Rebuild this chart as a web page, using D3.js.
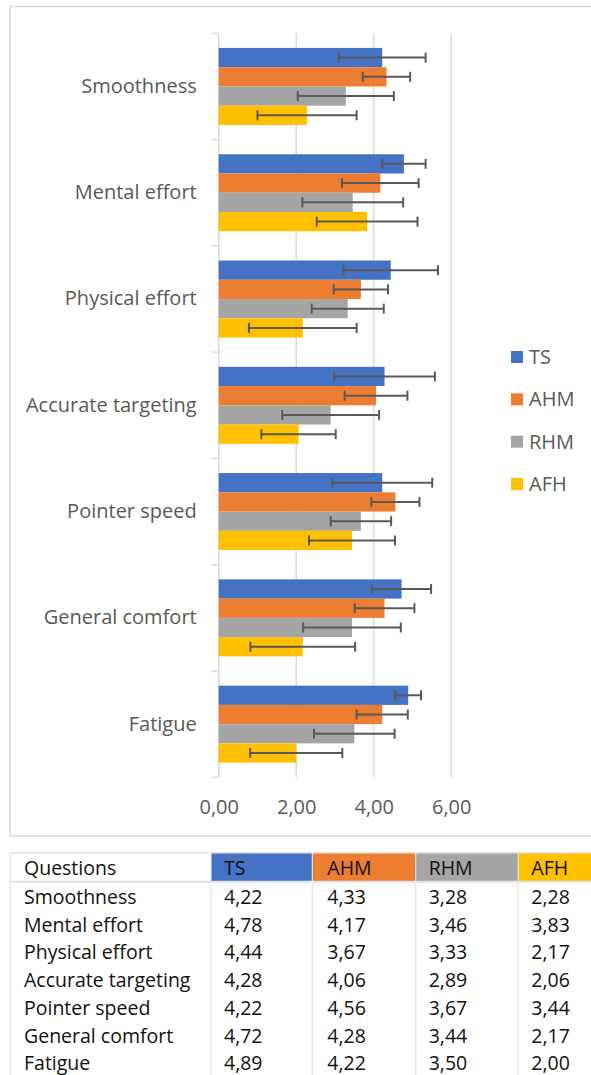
<!DOCTYPE html>
<html><head><meta charset="utf-8">
<script src="https://cdn.jsdelivr.net/npm/d3@7"></script>
<style>
html,body{margin:0;padding:0;background:#fff;}
svg{display:block;}
</style>
</head><body>
<svg id="c" width="591" height="1075"></svg>
<script>
const categories = ["Smoothness","Mental effort","Physical effort","Accurate targeting","Pointer speed","General comfort","Fatigue"];
const seriesNames = ["TS","AHM","RHM","AFH"];
const seriesColors = ["#4472C4","#ED7D31","#A5A5A5","#FFC000"];
const tsValues  = [4.22,4.78,4.44,4.28,4.22,4.72,4.89];
const ahmValues = [4.33,4.17,3.67,4.06,4.56,4.28,4.22];
const rhmValues = [3.28,3.46,3.33,2.89,3.67,3.44,3.50];
const afhValues = [2.28,3.83,2.17,2.06,3.44,2.17,2.00];
const tsErr  = [1.12,0.56,1.22,1.30,1.29,0.76,0.33];
const ahmErr = [0.61,0.99,0.70,0.81,0.62,0.77,0.66];
const rhmErr = [1.24,1.30,0.93,1.25,0.78,1.26,1.04];
const afhErr = [1.28,1.30,1.39,0.96,1.11,1.35,1.19];
const xTicks = [0,2,4,6];
const tableHeader = "Questions";

const values = [tsValues, ahmValues, rhmValues, afhValues];
const errs = [tsErr, ahmErr, rhmErr, afhErr];
const fmt = v => v.toFixed(2).replace(".", ",");
const FONT = "'Open Sans', sans-serif";
const GREY = "#595959";
const LINE = "#d9d9d9";

const svg = d3.select("#c");

// chart frame
svg.append("rect").attr("x",10).attr("y",6.5).attr("width",600).attr("height",829.5)
  .attr("fill","#fff").attr("stroke",LINE).attr("stroke-width",1.5);

const x = d3.scaleLinear().domain([0,6]).range([218.7,451.2]);
const y = d3.scaleBand().domain(categories).range([33.3,777.3]).padding(0);
const yi = d3.scaleBand().domain(seriesNames).range([0,y.bandwidth()]).paddingInner(0).paddingOuter(0.76);

// gridlines
svg.append("g").selectAll("line").data(xTicks.filter(t=>t>0)).join("line")
  .attr("x1",d=>x(d)).attr("x2",d=>x(d)).attr("y1",33.3).attr("y2",777.3)
  .attr("stroke",LINE).attr("stroke-width",1.5);

// x axis labels
const xAxis = d3.axisBottom(x).tickValues(xTicks).tickFormat(fmt).tickSize(0).tickPadding(0);
const gx = svg.append("g").attr("transform","translate(0,814)").call(xAxis);
gx.select(".domain").remove();
gx.selectAll("text").attr("dy",0).attr("font-family",FONT).attr("font-size",20).attr("fill",GREY);

// y axis
const yAxis = d3.axisLeft(y).tickSize(0).tickPadding(22);
const gy = svg.append("g").attr("transform",`translate(${x(0)},0)`).call(yAxis);
gy.select(".domain").remove();
gy.selectAll("text").attr("font-family",FONT).attr("font-size",20).attr("fill",GREY).attr("dy","0.32em");
// axis line and band ticks
svg.append("line").attr("x1",x(0)).attr("x2",x(0)).attr("y1",33.3).attr("y2",777.3)
  .attr("stroke",LINE).attr("stroke-width",1.5);
const bounds = categories.map(c=>y(c)).concat([y(categories[categories.length-1])+y.bandwidth()]);
svg.append("g").selectAll("line").data(bounds).join("line")
  .attr("x1",x(0)-7).attr("x2",x(0)).attr("y1",d=>d).attr("y2",d=>d)
  .attr("stroke",LINE).attr("stroke-width",1.5);

// bars
const barData = [];
categories.forEach((c,i)=>seriesNames.forEach((s,j)=>barData.push({c,s,j,v:values[j][i],e:errs[j][i]})));
const gb = svg.append("g");
gb.selectAll("rect").data(barData).join("rect")
  .attr("x",x(0)).attr("y",d=>y(d.c)+yi(d.s)).attr("width",d=>x(d.v)-x(0)).attr("height",yi.bandwidth())
  .attr("fill",d=>seriesColors[d.j]);

// error bars
const ge = svg.append("g").attr("stroke",GREY).attr("stroke-width",2).attr("fill","none");
barData.forEach(d=>{
  const cy = y(d.c)+yi(d.s)+yi.bandwidth()/2;
  const x1 = x(d.v-d.e), x2 = x(d.v+d.e);
  ge.append("line").attr("x1",x1).attr("x2",x2).attr("y1",cy).attr("y2",cy);
  ge.append("line").attr("x1",x1).attr("x2",x1).attr("y1",cy-5).attr("y2",cy+5);
  ge.append("line").attr("x1",x2).attr("x2",x2).attr("y1",cy-5).attr("y2",cy+5);
});

// legend
const leg = svg.append("g");
const legY = d3.scalePoint().domain(seriesNames).range([357,484]);
seriesNames.forEach((s,j)=>{
  leg.append("rect").attr("x",511).attr("y",legY(s)-6).attr("width",12).attr("height",12).attr("fill",seriesColors[j]);
  leg.append("text").attr("x",529).attr("y",legY(s)).attr("dy","0.35em")
    .attr("font-family",FONT).attr("font-size",20).attr("fill",GREY).text(s);
});

// table
const colX = [10,211,312.3,415.7,518.3,600];
const tTop = 852.7, hH = 29, rH = 27.7;
const tg = svg.append("g");
// header background
seriesNames.forEach((s,j)=>{
  tg.append("rect").attr("x",colX[j+1]).attr("y",tTop).attr("width",colX[j+2]-colX[j+1]).attr("height",hH)
    .attr("fill",seriesColors[j]);
});
// grid lines
tg.append("line").attr("x1",colX[0]).attr("x2",600).attr("y1",tTop).attr("y2",tTop).attr("stroke","#e3e3e3").attr("stroke-width",1.5);
tg.append("line").attr("x1",colX[0]).attr("x2",600).attr("y1",tTop+hH).attr("y2",tTop+hH).attr("stroke","#e3e3e3").attr("stroke-width",2);
colX.slice(0,5).forEach(cx=>{
  tg.append("line").attr("x1",cx).attr("x2",cx).attr("y1",tTop).attr("y2",1075).attr("stroke","#e3e3e3").attr("stroke-width",1.2);
});
const pad = [14,13,15,13,13];
tg.append("text").attr("x",colX[0]+pad[0]).attr("y",875).attr("font-family",FONT).attr("font-size",19.5).attr("fill","#111").text(tableHeader);
seriesNames.forEach((s,j)=>{
  tg.append("text").attr("x",colX[j+1]+pad[j+1]).attr("y",875).attr("font-family",FONT).attr("font-size",19.5).attr("fill","#111").text(s);
});
categories.forEach((c,i)=>{
  const by = 904 + i*rH;
  tg.append("text").attr("x",colX[0]+pad[0]).attr("y",by).attr("font-family",FONT).attr("font-size",19.5).attr("fill","#111").text(c);
  seriesNames.forEach((s,j)=>{
    tg.append("text").attr("x",colX[j+1]+pad[j+1]).attr("y",by).attr("font-family",FONT).attr("font-size",19.5).attr("fill","#111").text(fmt(values[j][i]));
  });
});
</script>
</body></html>
